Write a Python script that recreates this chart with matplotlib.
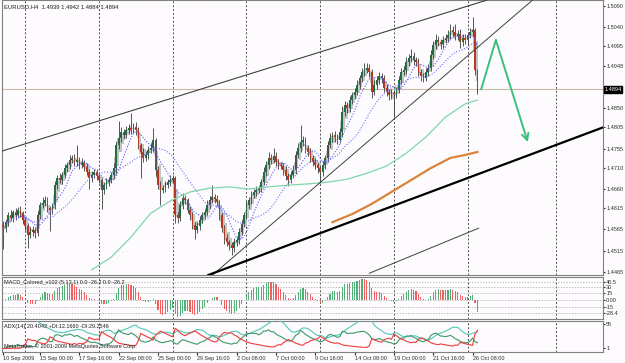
import numpy as np
import pandas as pd
import matplotlib
matplotlib.use("Agg")
import matplotlib.pyplot as plt

plt.rcParams['font.family'] = ['Liberation Sans Narrow', 'Liberation Sans', 'DejaVu Sans']

# EURUSD H4 closes, bar 0 = 10 Sep 2009 12:00
closes = [
    1.4568, 1.4582, 1.4599, 1.4592, 1.4606, 1.4599, 1.4611, 1.4603, 1.4587, 1.4573,
    1.4552, 1.4559, 1.4564, 1.4556, 1.4599, 1.4622, 1.4627, 1.4634, 1.4615, 1.4611,
    1.4622, 1.4669, 1.4686, 1.4681, 1.4693, 1.4709, 1.4716, 1.4728, 1.4733, 1.4723,
    1.4728, 1.4716, 1.4721, 1.4712, 1.4700, 1.4686, 1.4693, 1.4700, 1.4690, 1.4681,
    1.4658, 1.4669, 1.4676, 1.4681, 1.4693, 1.4709, 1.4763, 1.4780, 1.4794, 1.4787,
    1.4799, 1.4803, 1.4799, 1.4806, 1.4799, 1.4763, 1.4747, 1.4733, 1.4740, 1.4752,
    1.4756, 1.4775, 1.4705, 1.4669, 1.4658, 1.4662, 1.4669, 1.4676, 1.4681, 1.4686,
    1.4599, 1.4592, 1.4622, 1.4639, 1.4634, 1.4611, 1.4599, 1.4575, 1.4564, 1.4573,
    1.4587, 1.4599, 1.4606, 1.4622, 1.4634, 1.4641, 1.4636, 1.4629, 1.4599, 1.4568,
    1.4545, 1.4535, 1.4528, 1.4521, 1.4535, 1.4540, 1.4559, 1.4578, 1.4599, 1.4622,
    1.4634, 1.4646, 1.4653, 1.4658, 1.4662, 1.4676, 1.4700, 1.4716, 1.4733, 1.4728,
    1.4738, 1.4723, 1.4716, 1.4714, 1.4705, 1.4690, 1.4681, 1.4693, 1.4705, 1.4740,
    1.4756, 1.4770, 1.4775, 1.4756, 1.4747, 1.4733, 1.4723, 1.4716, 1.4709, 1.4700,
    1.4716, 1.4733, 1.4763, 1.4780, 1.4787, 1.4782, 1.4775, 1.4794, 1.4841, 1.4857,
    1.4850, 1.4869, 1.4881, 1.4888, 1.4904, 1.4921, 1.4935, 1.4940, 1.4944, 1.4935,
    1.4888, 1.4904, 1.4916, 1.4925, 1.4921, 1.4897, 1.4888, 1.4881, 1.4885, 1.4883,
    1.4893, 1.4916, 1.4935, 1.4940, 1.4958, 1.4968, 1.4972, 1.4963, 1.4958, 1.4935,
    1.4925, 1.4921, 1.4935, 1.4944, 1.4975, 1.4998, 1.5010, 1.5005, 1.5001, 1.5010,
    1.5015, 1.5022, 1.5034, 1.5029, 1.5019, 1.5024, 1.5005, 1.5015, 1.5010, 1.5022,
    1.5029, 1.5034, 1.4939, 1.4894,
]
first_open = 1.4575

# wick lengths in pips
upper_wick = [
    10, 6, 8, 12, 5, 9, 7, 10, 6, 8,
    7, 12, 9, 6, 10, 8, 14, 9, 7, 6,
    5, 10, 8, 12, 6, 9, 7, 11, 8, 10,
    35, 8, 12, 6, 9, 7, 10, 8, 6, 9,
    5, 8, 10, 7, 6, 12, 9, 40, 11, 8,
    10, 9, 35, 8, 12, 7, 6, 9, 10, 8,
    12, 28, 6, 8, 10, 7, 9, 8, 12, 6,
    5, 9, 10, 12, 8, 6, 9, 7, 8, 10,
    9, 7, 8, 12, 10, 28, 7, 9, 6, 8,
    7, 9, 6, 8, 10, 7, 9, 8, 6, 10,
    8, 9, 7, 10, 6, 8, 12, 9, 15, 10,
    18, 9, 7, 8, 6, 10, 8, 9, 12, 10,
    11, 40, 9, 7, 8, 10, 6, 9, 8, 7,
    10, 8, 9, 12, 7, 10, 8, 9, 14, 10,
    8, 9, 7, 10, 12, 8, 9, 15, 12, 10,
    8, 12, 9, 10, 7, 8, 9, 6, 10, 8,
    7, 9, 10, 8, 12, 9, 16, 10, 8, 9,
    7, 8, 10, 9, 12, 10, 14, 9, 8, 10,
    9, 12, 14, 9, 18, 10, 12, 9, 10, 8,
    10, 30, 4, 3,
]
lower_wick = [
    50, 8, 10, 7, 9, 12, 6, 8, 10, 9,
    30, 8, 10, 12, 7, 9, 6, 8, 10, 50,
    9, 8, 10, 7, 9, 6, 8, 10, 7, 9,
    8, 10, 7, 9, 8, 25, 9, 7, 10, 8,
    45, 9, 8, 10, 7, 9, 12, 8, 10, 9,
    8, 10, 9, 7, 12, 10, 60, 9, 8, 10,
    7, 9, 14, 10, 35, 8, 9, 7, 10, 8,
    20, 12, 8, 9, 10, 7, 12, 9, 22, 8,
    9, 8, 10, 7, 9, 8, 10, 9, 12, 10,
    14, 10, 12, 16, 8, 9, 10, 7, 8, 9,
    8, 10, 7, 9, 8, 10, 7, 9, 8, 10,
    7, 9, 10, 8, 12, 9, 14, 8, 7, 9,
    8, 9, 10, 12, 9, 10, 8, 9, 12, 26,
    9, 8, 10, 7, 9, 12, 10, 8, 9, 10,
    12, 8, 9, 10, 7, 8, 9, 10, 8, 12,
    15, 8, 9, 10, 12, 9, 10, 12, 9, 55,
    9, 8, 10, 7, 9, 8, 10, 12, 9, 10,
    12, 9, 8, 10, 7, 9, 8, 10, 12, 9,
    8, 10, 9, 12, 10, 9, 14, 8, 10, 9,
    8, 10, 10, 10,
]

# long moving averages (bar index, price)
ma_green_bars = [36, 44, 52, 60, 68, 76, 84, 92, 100, 108, 116, 124, 132, 140,
                 148, 156, 164, 172, 180, 188, 193]
ma_green_vals = [1.4470, 1.4500, 1.4547, 1.4603, 1.4632, 1.4653, 1.4662, 1.4665,
                 1.4660, 1.4665, 1.4669, 1.4672, 1.4676, 1.4683, 1.4697, 1.4714,
                 1.4744, 1.4782, 1.4829, 1.4860, 1.4869]
ma_orange_bars = [134, 142, 150, 158, 166, 174, 182, 188, 193]
ma_orange_vals = [1.4582, 1.4601, 1.4625, 1.4653, 1.4681, 1.4709, 1.4733, 1.4740, 1.4747]

# drawn objects (bar, price)
channel_top = [(0, 1.4750), (193, 1.5097)]
steep_line = [(86.6, 1.4465), (195.5, 1.5005)]
thick_line = [(85.4, 1.4462), (243.3, 1.4803)]
lower_line = [(149, 1.4462), (193.5, 1.4568)]
arrow_pts = [(194.5, 1.4894), (200.5, 1.5010), (213.5, 1.4770)]

date_bars = [0, 15, 31, 47, 63, 79, 95, 111, 127, 143, 159, 175, 191]
date_labels = ['10 Sep 2009', '15 Sep 00:00', '17 Sep 16:00', '22 Sep 08:00', '25 Sep 00:00',
               '29 Sep 16:00', '2 Oct 08:00', '7 Oct 00:00', '9 Oct 16:00', '14 Oct 08:00',
               '19 Oct 00:00', '21 Oct 16:00', '26 Oct 08:00']
week_bars = [9, 39, 69, 99, 129, 159, 189, 225]
price_ticks = [1.5090, 1.5040, 1.4995, 1.4948, 1.4850, 1.4805, 1.4755, 1.4710,
               1.4660, 1.4615, 1.4565, 1.4515, 1.4465]
macd_ticks = [40.5, 30, 15, 0, -15, -28.4]
macd_tick_labels = ['40.5', '30', '15', '0.00', '-15', '-28.4']
last_price = 1.4894

# ---- derived series
c = pd.Series(closes)
o = pd.Series([first_open] + closes[:-1])
h = pd.Series([max(a, b) + w / 10000 for a, b, w in zip(o, c, upper_wick)])
l = pd.Series([min(a, b) - w / 10000 for a, b, w in zip(o, c, lower_wick)])
x = np.arange(len(c))

ma_fast = c.rolling(8, min_periods=1).mean()
ma_slow = c.rolling(21, min_periods=1).mean()

macd = (c.ewm(span=5, adjust=False).mean() - c.ewm(span=13, adjust=False).mean()) * 10000
macd_col = ['#50b078' if d >= 0 else '#f06060' for d in macd.diff().fillna(0)]

up = h.diff()
dn = -l.diff()
pdm = pd.Series(np.where((up > dn) & (up > 0), up, 0.0))
mdm = pd.Series(np.where((dn > up) & (dn > 0), dn, 0.0))
tr = pd.concat([h - l, (h - c.shift()).abs(), (l - c.shift()).abs()], axis=1).max(axis=1)
atr = tr.ewm(span=14, adjust=False).mean()
pdi = 100 * pdm.ewm(span=14, adjust=False).mean() / atr
mdi = 100 * mdm.ewm(span=14, adjust=False).mean() / atr
dx = 100 * (pdi - mdi).abs() / (pdi + mdi)
adx = dx.ewm(span=14, adjust=False).mean()

# ---- figure
W, H = 625, 363
bg = '#fdfbfd'
fs = 4.0
fig = plt.figure(figsize=(W / 100, H / 100), dpi=100)
fig.patch.set_facecolor(bg)


def box(top, bottom):
    return [2 / W, 1 - bottom / H, 601 / W, (bottom - top) / H]


ax = fig.add_axes(box(0, 275))
ax_macd = fig.add_axes(box(277, 319))
ax_adx = fig.add_axes(box(321, 352))

for a in (ax, ax_macd, ax_adx):
    a.set_facecolor(bg)
    a.set_xlim(-0.5, 244.1)
    for s in a.spines.values():
        s.set_color('#808080')
        s.set_linewidth(0.8)
    a.yaxis.tick_right()
    a.tick_params(axis='y', labelsize=fs, length=1.5, pad=0.8, colors='#303030')
    for wb in week_bars:
        a.axvline(wb, color='#505050', lw=0.7, ls=(0, (2, 2)), zorder=1)

# price panel
ax.set_ylim(1.44579, 1.51041)
ax.set_yticks(price_ticks)
ax.set_yticklabels([f'{p:.4f}' for p in price_ticks])
ax.set_xticks([])
for p in price_ticks:
    ax.axhline(p, color='#e4dce4', lw=0.5, ls=(0, (1, 5)), zorder=0)

ax.axhline(last_price, color='#cbb9a2', lw=0.8, zorder=1)

# heiken-ashi style gray shadows
ha_close = (o + h + l + c) / 4
ha_open = [(o[0] + c[0]) / 2]
for i in range(1, len(c)):
    ha_open.append((ha_open[-1] + ha_close[i - 1]) / 2)
ha_open = pd.Series(ha_open)
ax.bar(x - 0.3, (ha_close - ha_open).abs() + 0.00005, bottom=np.minimum(ha_open, ha_close),
       width=0.9, color='#c4c4c4', zorder=2)

ax.vlines(x, l, h, color='#3c3c3c', lw=0.6, zorder=3)
bull = c >= o
body_h = (c - o).abs().clip(lower=0.00006)
ax.bar(x[bull], body_h[bull], bottom=np.minimum(o, c)[bull], width=0.7,
       color='#1e6e44', zorder=4)
ax.bar(x[~bull], body_h[~bull], bottom=np.minimum(o, c)[~bull], width=0.7,
       color='#b8381c', zorder=4)

ax.plot(x, ma_fast, color='#5a5aff', lw=0.8, ls=(0, (1, 1.5)), zorder=5)
ax.plot(x, ma_slow, color='#7070ff', lw=0.8, ls=(0, (1, 1.5)), zorder=5)
ax.plot(ma_green_bars, ma_green_vals, color='#7fd6ae', lw=0.9, zorder=5)
ax.plot(ma_orange_bars, ma_orange_vals, color='#d9833a', lw=1.6, zorder=5)

ax.axline(channel_top[0], channel_top[1], color='#404040', lw=0.8, zorder=6)
ax.axline(steep_line[0], steep_line[1], color='#404040', lw=0.7, zorder=6)
ax.axline(thick_line[0], thick_line[1], color='#000000', lw=1.6, zorder=6)
ax.plot(*zip(*lower_line), color='#404040', lw=0.7, zorder=6)

ax.plot(*zip(*arrow_pts[:2]), color='#3cbf7c', lw=1.4, zorder=7, solid_capstyle='round')
ax.annotate('', xy=arrow_pts[2], xytext=arrow_pts[1],
            arrowprops=dict(arrowstyle='->', color='#3cbf7c', lw=1.4, mutation_scale=12,
                            shrinkA=0, shrinkB=0), zorder=7)

ax.text(1.002, last_price, f'{last_price:.4f}', transform=ax.get_yaxis_transform(),
        fontsize=fs, color='white', va='center', ha='left',
        bbox=dict(boxstyle='square,pad=0.12', fc='black', ec='black'))
ax.text(0.003, 0.975, 'EURUSD,H4  1.4939 1.4942 1.4884 1.4894', transform=ax.transAxes,
        fontsize=4.2, va='center', ha='left', color='#202020')

# MACD panel
ax_macd.set_ylim(-42.5, 51.5)
ax_macd.set_yticks(macd_ticks)
ax_macd.set_yticklabels(macd_tick_labels)
ax_macd.set_xticks([])
for v in macd_ticks:
    ax_macd.axhline(v, color='#a8a8a8', lw=0.5, ls=(0, (2, 2)), zorder=1)
ax_macd.bar(x, macd, width=0.45, color=macd_col, zorder=3)
ax_macd.text(0.004, 0.86, 'MACD_Colored_v102 (5,13,1) 0.0 -26.2 0.0 -26.2',
             transform=ax_macd.transAxes, fontsize=fs, va='center', ha='left', color='#202020')

# ADX panel
ax_adx.set_ylim(-8, 62)
ax_adx.set_yticks([55, 1])
ax_adx.set_yticklabels(['55', '1'])
ax_adx.plot(x, adx, color='#52c8b4', lw=0.8, zorder=3)
ax_adx.plot(x, pdi, color='#3d9a68', lw=0.8, zorder=3)
ax_adx.plot(x, mdi, color='#ee3c3c', lw=0.8, zorder=3)
ax_adx.text(0.004, 0.82, 'ADX(14) 20.4042 +DI:12.1660 -DI:29.2546',
            transform=ax_adx.transAxes, fontsize=fs, va='center', ha='left', color='#202020')
ax_adx.text(0.004, 0.2, 'MetaTrader, \u00a9 2001-2009 MetaQuotes Software Corp.',
            transform=ax_adx.transAxes, fontsize=fs, va='center', ha='left', color='#202020')
ax_adx.set_xticks(date_bars)
ax_adx.set_xticklabels(date_labels, ha='left')
ax_adx.tick_params(axis='x', labelsize=fs, length=2, pad=1, colors='#303030')

fig.savefig('out.png', dpi=100, facecolor=bg)
